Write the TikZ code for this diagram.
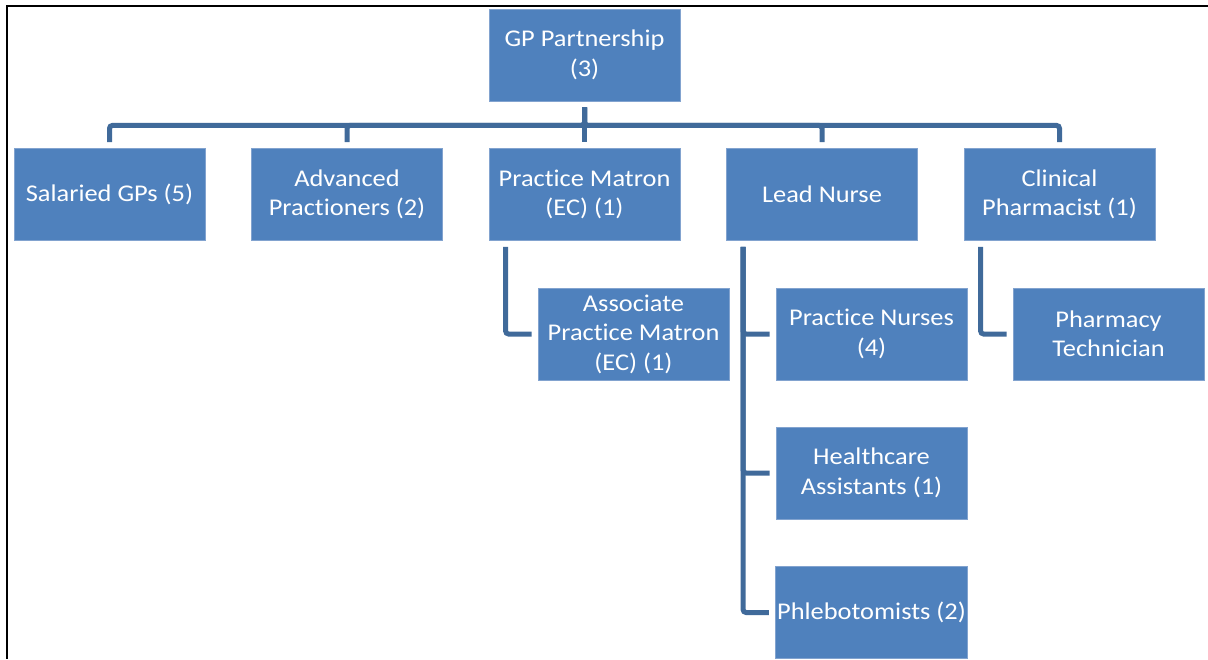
\documentclass[tikz,border=0pt]{standalone}
\usepackage{fontspec}
\setmainfont{Carlito}[FakeStretch=1.1,Ligatures=NoCommon]
\usepackage{tikz}
\usetikzlibrary{positioning}
\definecolor{boxblue}{RGB}{79,129,189}
\definecolor{edgeblue}{RGB}{130,163,207}
\definecolor{lineblue}{RGB}{64,106,154}
\tikzset{
  role/.style={rectangle,fill=boxblue,draw=edgeblue,line width=0.8pt,
    minimum width=191pt,minimum height=92pt,inner sep=2pt,
    text=white,align=center,font=\fontsize{24}{29.5}\selectfont},
  link/.style={draw=lineblue,line width=5pt,rounded corners=3pt,
    shorten <=6pt,shorten >=6pt},
}

\begin{document}
\begin{tikzpicture}[x=1pt,y=-1pt]
      \useasboundingbox (0,0) rectangle (1208,659);
      \draw[line width=2pt] (1208,6) -- (7,6) -- (7,659);

      % top of the practice
      \node[role] (GP) at (584.5,55) {GP Partnership\\(3)};

      % first row
      \node[role] (SG) at (109.5,194.5) {Salaried GPs (5)};
      \node[role] (AP) at (347,194.5) {Advanced\\Practioners (2)};
      \node[role] (PM) at (584.5,194.5) {Practice Matron\\(EC) (1)};
      \node[role] (LN) at (822,194.5) {Lead Nurse};
      \node[role] (CP) at (1059.5,194.5) {Clinical\\Pharmacist (1)};

      % second row
      \node[role] (APM) at (633.5,334) {Associate\\Practice Matron\\(EC) (1)};
      \node[role] (PN) at (871.5,334) {Practice Nurses\\(4)};
      \node[role] (HA) at (871.5,473) {Healthcare\\Assistants (1)};
      \node[role] (PB) at (871.5,612.5) {Phlebotomists (2)};
      \node[role] (PT) at (1108.5,334) {Pharmacy\\Technician};

      \foreach \c in {SG,AP,PM,LN,CP}
        \draw[link] (GP.south) -- ++(0,24) -| (\c.north);

      \draw[link] ([xshift=17pt]PM.south west) |- (APM.west);
      \foreach \c in {PN,HA,PB}
        \draw[link] ([xshift=17pt]LN.south west) |- (\c.west);
      \draw[link] ([xshift=17pt]CP.south west) |- (PT.west);
\end{tikzpicture}
\end{document}
